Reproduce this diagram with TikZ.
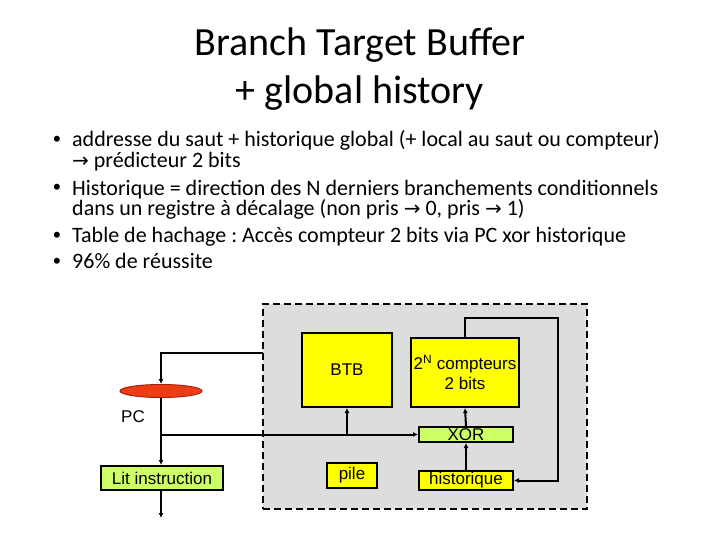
\documentclass[tikz,border=0pt]{standalone}
\usepackage{fontspec}
\setmainfont{Carlito}
\newfontfamily\diagfont{Liberation Sans}
\newfontfamily\symbfont{DejaVu Sans}
\usepackage{xcolor}
\usetikzlibrary{positioning}
\usetikzlibrary{shapes.geometric}
\usetikzlibrary{arrows.meta}
\definecolor{jaune}{RGB}{255,255,0}
\definecolor{vert}{RGB}{204,255,102}
\definecolor{gris}{RGB}{221,221,221}
\definecolor{rouge}{RGB}{238,60,20}
\definecolor{rougefonce}{RGB}{170,35,10}

\newcommand{\fl}{{\symbfont\fontsize{20}{20}\selectfont →}}

\begin{document}
\frenchspacing
\begin{tikzpicture}[x=1pt, y=-1pt]

                \useasboundingbox (0, 0) rectangle (720, 540);

                % Styles of the slide text and of the schema
                \tikzset{
                    titre/.style={inner sep=0pt, anchor=base,
                        font=\fontsize{40}{48}\selectfont},
                    puce/.style={inner sep=0pt, anchor=base west, align=left,
                        font=\fontsize{22}{20.5}\selectfont},
                    rond/.style={inner sep=0pt, anchor=base west,
                        font=\diagfont\fontsize{22}{20}\selectfont},
                    boite/.style={draw, line width=2pt, inner sep=0pt,
                        align=center, font=\diagfont\fontsize{17}{20}\selectfont},
                    etiquette/.style={inner sep=0pt,
                        font=\diagfont\fontsize{17}{20}\selectfont},
                    fleche/.style={line width=2pt,
                        -{Latex[length=5pt, width=5pt]}}
                }

                % Title
                \node[titre] (titre1) at (360, 56) {Branch Target Buffer};
                \node[titre] (titre2) at (360, 104) {+ global history};

                % Bullets (base = last line of each text)
                \node[rond] (puce1) at (53, 147) {•};
                \node[puce] (texte1) at (72, 167.5)
                {addresse du saut + historique global (+ local au saut ou compteur)\\
                 \fl{} prédicteur 2 bits};
                \node[rond] (puce2) at (53, 195) {•};
                \node[puce] (texte2) at (72, 215.5)
                {Historique = direction des N derniers branchements conditionnels\\
                 dans un registre à décalage (non pris \fl{} 0, pris \fl{} 1)};
                \node[rond] (puce3) at (53, 242) {•};
                \node[puce] (texte3) at (72, 242)
                {Table de hachage : Accès compteur 2 bits via PC xor historique};
                \node[rond] (puce4) at (53, 268) {•};
                \node[puce] (texte4) at (72, 268) {96\% de réussite};

                % Predictor block
                \node[draw, line width=2pt, dash pattern=on 7pt off 4pt,
                    fill=gris, minimum width=324, minimum height=205]
                    (zone) at (425, 406.5) {};

                \node[boite, fill=jaune, minimum width=90, minimum height=74]
                    (btb) at (347, 370) {BTB};
                \node[boite, fill=jaune, minimum width=108, minimum height=69]
                    (cmpt) at (465, 372.5) {2\textsuperscript{N} compteurs\\2 bits};
                \node[boite, fill=vert, minimum width=94, minimum height=15]
                    (xor) at (466, 434.5) {XOR};
                \node[boite, fill=jaune, minimum width=94, minimum height=19]
                    (hist) at (466, 480.5) {historique};
                \node[boite, fill=jaune, minimum width=50, minimum height=25]
                    (pile) at (352, 475.5) {pile};

                % Fetch side
                \node[ellipse, draw=rougefonce, line width=1pt, fill=rouge,
                    minimum width=82, minimum height=13, inner sep=0pt]
                    (pc) at (161, 391) {};
                \node[etiquette] (pclabel) at (133, 417) {PC};
                \node[boite, fill=vert, minimum width=122, minimum height=24]
                    (lit) at (162, 478) {Lit instruction};

                \coordinate (entree) at (263, 353);
                \coordinate (noeud) at (pc.south |- xor.west);
                \coordinate (sortie) at (161, 518);
                \coordinate (retour) at (558, 318);

                \begin{scope}[fleche]
                    \draw (entree) -| (pc.north);
                    \draw (pc.south) -- (pc.south |- lit.north);
                    \draw (noeud) -- (xor.west);
                    \draw (btb.south |- xor.west) -- (btb.south);
                    \draw (pc.south |- lit.south) -- (sortie);
                    \draw (hist.north) -- (xor.south);
                    \draw (xor.north) -- (cmpt.south);
                    \draw (cmpt.north) |- (retour) |- (hist.east);
                \end{scope}

\end{tikzpicture}
\end{document}
